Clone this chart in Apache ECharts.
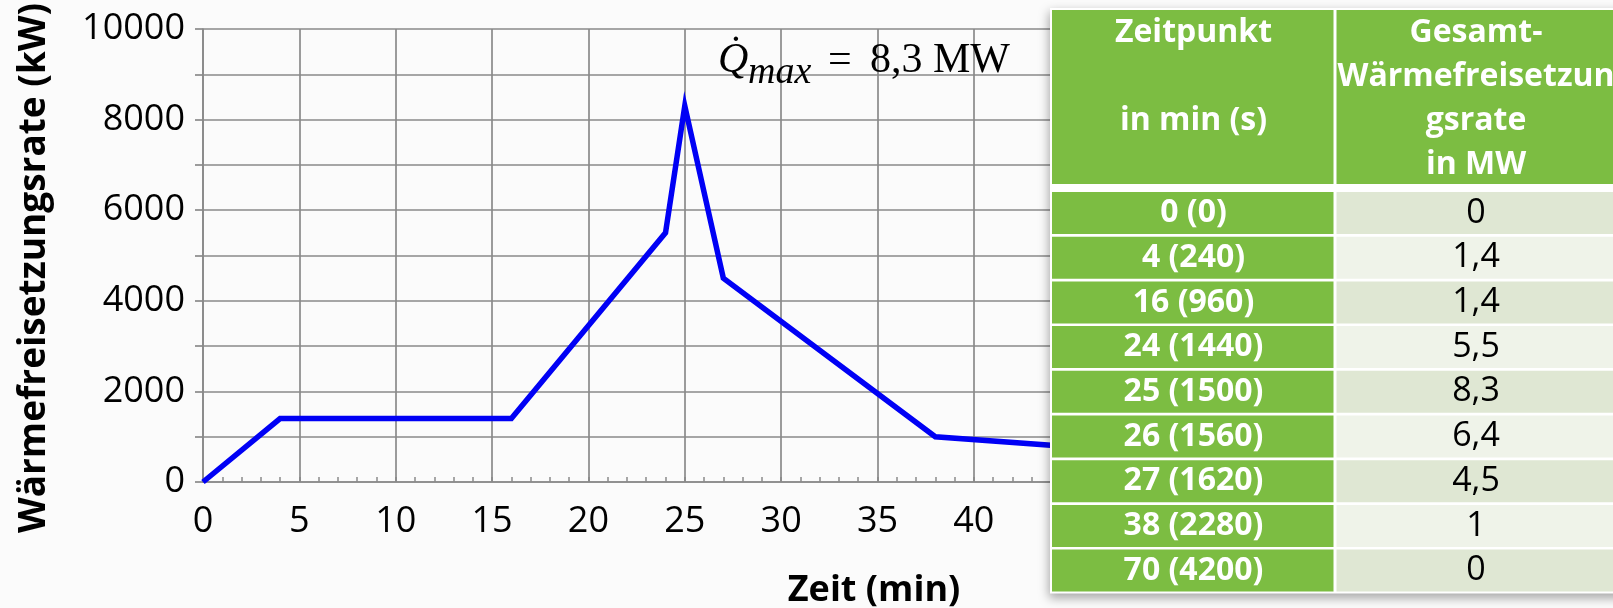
<!DOCTYPE html>
<html>
<head>
<meta charset="utf-8">
<script src="https://cdn.jsdelivr.net/npm/echarts@6/dist/echarts.min.js"></script>
<style>
  html, body { margin: 0; padding: 0; background: #fbfbfb; }
  #chart { width: 1613px; height: 608px; }
</style>
</head>
<body>
<div id="chart"></div>
<script>
// Bemessungsbrandkurve: Zeitpunkte und Gesamt-Wärmefreisetzungsrate
const timeMin = [0, 4, 16, 24, 25, 26, 27, 38, 70];
const timeSec = [0, 240, 960, 1440, 1500, 1560, 1620, 2280, 4200];
const rateMW  = [0, 1.4, 1.4, 5.5, 8.3, 6.4, 4.5, 1, 0];

const yTitle = 'Wärmefreisetzungsrate (kW)';
const xTitle = 'Zeit (min)';
const headLeft  = ['Zeitpunkt', '', 'in min (s)'];
const headRight = ['Gesamt-', 'Wärmefreisetzun', 'gsrate', 'in MW'];

const fmt = v => String(v).replace('.', ',');
const seriesData = timeMin.map((t, i) => [t, rateMW[i] * 1000]);
const peakMW = Math.max(...rateMW);

const gridColor = '#8a8a8a';
const green = '#7cbd42';
const bandDark = '#dfe7d3';
const bandLight = '#eff3e9';
const tableFont = '"Open Sans", sans-serif';

// Tabelle rechts über dem Diagramm
const T = { x0: 1052, xDiv: 1335, x1: 1625, headTop: 10, headBot: 184, rowTop: 192, pitch: 44.7, cellH: 42, lh: 44 };
const g = [];
const tableBottom = T.rowTop + (timeMin.length - 1) * T.pitch + T.cellH;
g.push({
  type: 'rect', z: 100,
  shape: { x: T.x0 - 2, y: T.headTop - 2, width: T.x1 - T.x0 + 4, height: tableBottom - T.headTop + 4 },
  style: { fill: '#ffffff', shadowBlur: 10, shadowOffsetX: -1, shadowOffsetY: 4, shadowColor: 'rgba(0,0,0,0.35)' }
});
const leftW = T.xDiv - 1.5 - T.x0;
const rightX = T.xDiv + 1.5;
const rightW = T.x1 - rightX;
const leftC = (T.x0 + T.xDiv) / 2;
const rightC = 1476;

g.push({ type: 'rect', z: 101, shape: { x: T.x0, y: T.headTop, width: leftW, height: T.headBot - T.headTop }, style: { fill: green } });
g.push({ type: 'rect', z: 101, shape: { x: rightX, y: T.headTop, width: rightW, height: T.headBot - T.headTop }, style: { fill: green } });
headLeft.forEach((s, i) => {
  g.push({ type: 'text', z: 102, style: { text: s, x: leftC, y: 33 + i * T.lh, align: 'center', verticalAlign: 'middle', fill: '#fff', font: 'bold 32px ' + tableFont } });
});
headRight.forEach((s, i) => {
  g.push({ type: 'text', z: 102, style: { text: s, x: rightC, y: 33 + i * T.lh, align: 'center', verticalAlign: 'middle', fill: '#fff', font: 'bold 32px ' + tableFont } });
});
timeMin.forEach((t, i) => {
  const y = T.rowTop + i * T.pitch;
  g.push({ type: 'rect', z: 101, shape: { x: T.x0, y: y, width: leftW, height: T.cellH }, style: { fill: green } });
  g.push({ type: 'rect', z: 101, shape: { x: rightX, y: y, width: rightW, height: T.cellH }, style: { fill: i % 2 === 0 ? bandDark : bandLight } });
  g.push({ type: 'text', z: 102, style: { text: t + ' (' + timeSec[i] + ')', x: leftC, y: y + T.cellH / 2, align: 'center', verticalAlign: 'middle', fill: '#fff', font: 'bold 32px ' + tableFont } });
  g.push({ type: 'text', z: 102, style: { text: fmt(rateMW[i]), x: rightC, y: y + T.cellH / 2, align: 'center', verticalAlign: 'middle', fill: '#000', font: '34px ' + tableFont } });
});

// Beschriftung des Maximums
const serif = '"Liberation Serif", serif';
g.push({ type: 'text', z: 50, style: { text: 'Q\u0307', x: 718, y: 61, align: 'left', verticalAlign: 'middle', fill: '#000', font: 'italic 42px ' + serif } });
g.push({ type: 'text', z: 50, style: { text: 'max', x: 748, y: 73, align: 'left', verticalAlign: 'middle', fill: '#000', font: 'italic 38px ' + serif } });
g.push({ type: 'text', z: 50, style: { text: '=', x: 828, y: 61, align: 'left', verticalAlign: 'middle', fill: '#000', font: '42px ' + serif } });
g.push({ type: 'text', z: 50, style: { text: fmt(peakMW) + ' MW', x: 870, y: 61, align: 'left', verticalAlign: 'middle', fill: '#000', font: '42px ' + serif } });

// Achsentitel
g.push({ type: 'text', z: 50, x: 34, y: 268, rotation: Math.PI / 2, style: { text: yTitle, x: 0, y: 0, align: 'center', verticalAlign: 'middle', fill: '#000', font: 'bold 37px ' + tableFont } });
g.push({ type: 'text', z: 50, style: { text: xTitle, x: 874, y: 591, align: 'center', verticalAlign: 'middle', fill: '#000', font: 'bold 36px ' + tableFont } });

const chart = echarts.init(document.getElementById('chart'), null, { renderer: 'canvas' });
chart.setOption({
  backgroundColor: '#fbfbfb',
  animation: false,
  grid: { left: 203, right: 61, top: 29, bottom: 126, containLabel: false },
  xAxis: {
    type: 'value', min: 0, max: 70, interval: 5,
    axisLine: { show: true, lineStyle: { color: gridColor, width: 1.7 } },
    axisTick: { show: true, inside: true, length: 5, lineStyle: { color: gridColor, width: 1.7 } },
    minorTick: { show: true, splitNumber: 5, length: 5, lineStyle: { color: gridColor, width: 1.5 } },
    splitLine: { show: true, lineStyle: { color: gridColor, width: 1.7 } },
    axisLabel: { margin: 22, fontSize: 36, fontFamily: 'Open Sans', color: '#000' }
  },
  yAxis: {
    type: 'value', min: 0, max: 10000, interval: 1000,
    axisLine: { show: true, lineStyle: { color: gridColor, width: 1.7 } },
    axisTick: { show: true, inside: false, length: 8, lineStyle: { color: gridColor, width: 1.7 } },
    splitLine: { show: true, lineStyle: { color: gridColor, width: 1.7 } },
    axisLabel: {
      margin: 18, fontSize: 36, fontFamily: 'Open Sans', color: '#000', padding: [0, 0, 13, 0],
      formatter: v => (v % 2000 === 0 ? String(v) : '')
    }
  },
  series: [{
    type: 'line', data: seriesData, symbol: 'none', showSymbol: false, z: 5,
    lineStyle: { color: '#0000f5', width: 5.5, join: 'miter' }
  }],
  graphic: g
});
</script>
</body>
</html>
